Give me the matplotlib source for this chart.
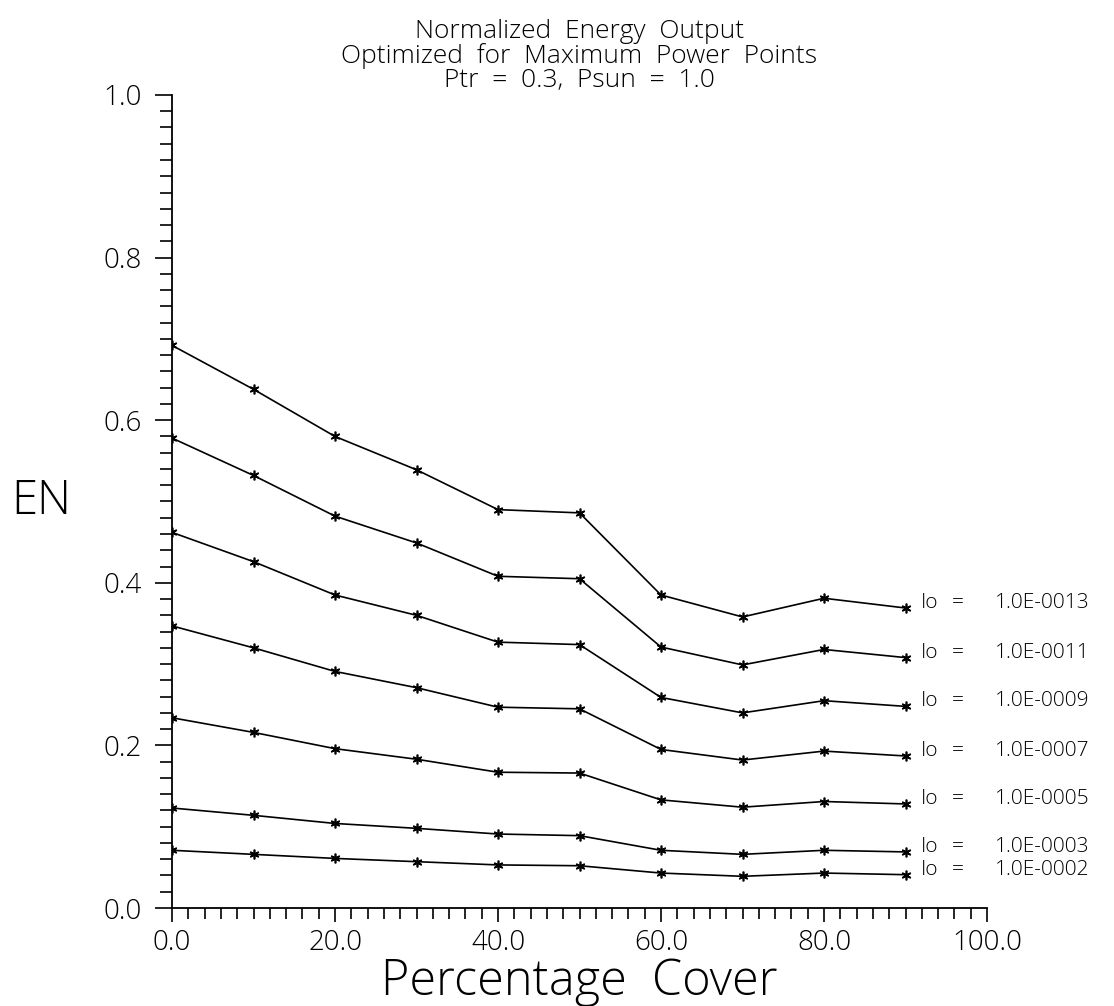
import numpy as np
import matplotlib
matplotlib.use("Agg")
import matplotlib.pyplot as plt
from matplotlib.ticker import MultipleLocator, FormatStrFormatter

plt.rcParams["font.family"] = ["Open Sans", "DejaVu Sans"]
plt.rcParams["font.weight"] = "light"
plt.rcParams["axes.titleweight"] = "light"
plt.rcParams["axes.labelweight"] = "light"

cover = [0, 10, 20, 30, 40, 50, 60, 70, 80, 90]

# normalized energy per saturation current Io
en_1e13 = [0.692, 0.638, 0.580, 0.539, 0.490, 0.486, 0.385, 0.358, 0.381, 0.369]
en_1e11 = [0.578, 0.532, 0.482, 0.449, 0.408, 0.405, 0.321, 0.299, 0.318, 0.308]
en_1e09 = [0.462, 0.426, 0.385, 0.360, 0.327, 0.324, 0.259, 0.240, 0.255, 0.248]
en_1e07 = [0.347, 0.320, 0.291, 0.271, 0.247, 0.245, 0.195, 0.182, 0.193, 0.187]
en_1e05 = [0.234, 0.216, 0.196, 0.183, 0.167, 0.166, 0.133, 0.124, 0.131, 0.128]
en_1e03 = [0.123, 0.114, 0.104, 0.098, 0.091, 0.089, 0.071, 0.066, 0.071, 0.069]
en_1e02 = [0.071, 0.066, 0.061, 0.057, 0.053, 0.052, 0.043, 0.039, 0.043, 0.041]

series = [en_1e13, en_1e11, en_1e09, en_1e07, en_1e05, en_1e03, en_1e02]
io_labels = ["1.0E-0013", "1.0E-0011", "1.0E-0009", "1.0E-0007",
             "1.0E-0005", "1.0E-0003", "1.0E-0002"]

fig = plt.figure(figsize=(11.14, 10.06), dpi=100)
ax = fig.add_axes([0.1544, 0.0974, 0.7316, 0.8082])

for y, lab in zip(series, io_labels):
    ax.plot(cover, y, "-", color="k", lw=1.2, marker=(6, 2, 0), ms=7, mew=1.2)
    ax.text(91.9, y[-1], "Io", fontsize=15, ha="left", va="baseline", clip_on=False)
    ax.text(96.4, y[-1], "=", fontsize=15, ha="center", va="baseline", clip_on=False)
    ax.text(101.0, y[-1], lab, fontsize=15, ha="left", va="baseline", clip_on=False)

ax.set_xlim(0, 100)
ax.set_ylim(0, 1.0)
for s in ("top", "right"):
    ax.spines[s].set_visible(False)
for s in ("left", "bottom"):
    ax.spines[s].set_linewidth(1.3)

ax.xaxis.set_major_locator(MultipleLocator(20))
ax.xaxis.set_minor_locator(MultipleLocator(2))
ax.yaxis.set_major_locator(MultipleLocator(0.2))
ax.yaxis.set_minor_locator(MultipleLocator(0.02))
ax.xaxis.set_major_formatter(FormatStrFormatter("%.1f"))
ax.yaxis.set_major_formatter(FormatStrFormatter("%.1f"))
ax.tick_params(axis="x", which="major", direction="out", length=10, width=1.2,
               pad=5, labelsize=20)
ax.tick_params(axis="x", which="minor", direction="out", length=8, width=1.2)
ax.tick_params(axis="y", which="major", direction="out", length=12, width=1.2,
               pad=10, labelsize=20)
ax.tick_params(axis="y", which="minor", direction="out", length=8.5, width=1.2)

ax.text(-0.16, 0.5, "EN", transform=ax.transAxes, fontsize=34,
        ha="center", va="center")
ax.set_xlabel("Percentage  Cover", fontsize=35, labelpad=0)
ax.set_title("Normalized  Energy  Output\nOptimized  for  Maximum  Power  Points\n"
             "Ptr  =  0.3,  Psun  =  1.0", fontsize=19, linespacing=0.95, pad=6)

fig.savefig("out.png", dpi=100)
